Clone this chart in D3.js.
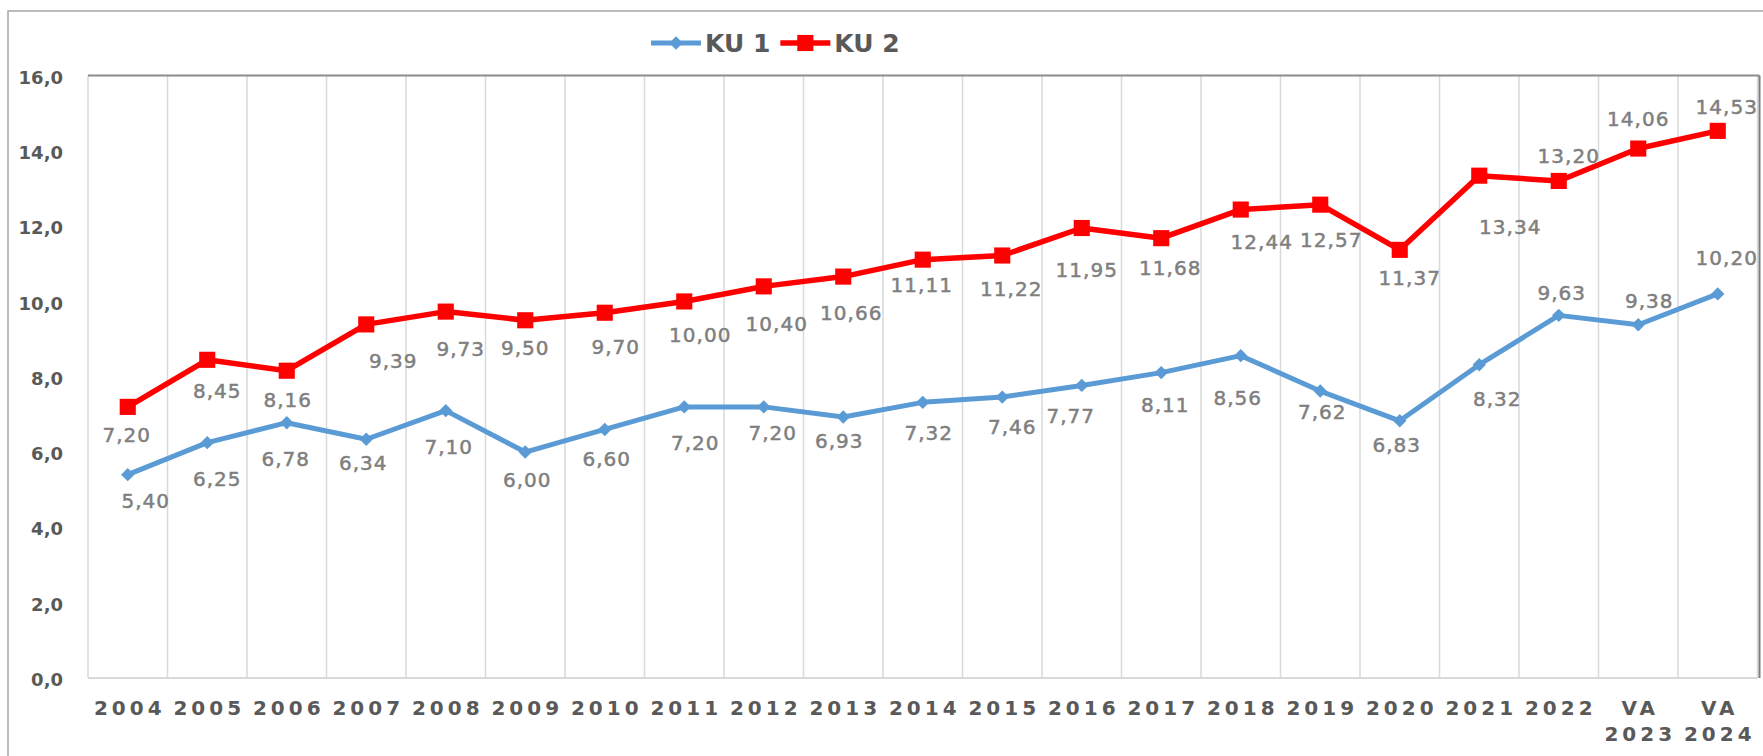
<!DOCTYPE html>
<html>
<head>
<meta charset="utf-8">
<script src="https://cdn.jsdelivr.net/npm/d3@7"></script>
<style>
    body { margin: 0; background: #fff; }
    svg { display: block; font-family: "DejaVu Sans", Verdana, sans-serif; }
</style>
</head>
<body>
<div id="canva"></div>
<script>
const categories = ['2004', '2005', '2006', '2007', '2008', '2009', '2010', '2011', '2012', '2013',
    '2014', '2015', '2016', '2017', '2018', '2019', '2020', '2021', '2022', 'VA\n2023', 'VA\n2024'];

const ku1 = [5.40, 6.25, 6.78, 6.34, 7.10, 6.00, 6.60, 7.20, 7.20, 6.93,
    7.32, 7.46, 7.77, 8.11, 8.56, 7.62, 6.83, 8.32, 9.63, 9.38, 10.20];

const ku2 = [7.20, 8.45, 8.16, 9.39, 9.73, 9.50, 9.70, 10.00, 10.40, 10.66,
    11.11, 11.22, 11.95, 11.68, 12.44, 12.57, 11.37, 13.34, 13.20, 14.06, 14.53];

const yTicks = [0, 2, 4, 6, 8, 10, 12, 14, 16];

// where each value label sits relative to its marker (dx, dy to text centre)
const ku1LabelShift = [[18, 26], [10, 36], [-1, 36], [-3, 24], [3, 36], [2, 28], [2, 30], [11, 36], [9, 26], [-4, 24],
    [6, 31], [10, 30], [-11, 31], [4, 32], [-3, 42], [2, 21], [-3, 24], [18, 34], [3, -22], [11, -24], [9, -36]];
const ku2LabelShift = [[-1, 28], [10, 31], [1, 29], [27, 37], [15, 37], [0, 28], [11, 34], [16, 34], [13, 38], [8, 36],
    [-1, 25], [9, 34], [5, 42], [9, 30], [21, 32], [11, 35], [10, 28], [31, 51], [10, -25], [0, -30], [9, -24]];

const width = 1763, height = 756;
const plot = { left: 88, right: 1757.5, top: 75.5, bottom: 678 };

const svg = d3.select('#canva').append('svg')
    .attr('width', width)
    .attr('height', height);

// outer chart frame (only top and left edges fall inside the picture)
svg.append('path')
    .attr('d', `M8,${height} L8,11 L${width},11`)
    .attr('fill', 'none')
    .attr('stroke', '#a6a6a6')
    .attr('stroke-width', 1.5);

const x = d3.scaleBand()
    .domain(categories)
    .range([plot.left, plot.right])
    .padding(0);

const y = d3.scaleLinear()
    .domain([0, 16])
    .range([plot.bottom, plot.top]);

const cx = c => x(c) + x.bandwidth() / 2;

// vertical gridlines on category boundaries
const bounds = categories.map(c => x(c)).concat([plot.right]);
svg.append('g').selectAll('line')
    .data(bounds)
    .enter()
    .append('line')
    .attr('x1', d => d).attr('x2', d => d)
    .attr('y1', plot.top).attr('y2', plot.bottom)
    .attr('stroke', '#d9d9d9')
    .attr('stroke-width', 1.5);

// baseline, top edge and right edge of plot
svg.append('line')
    .attr('x1', plot.left).attr('x2', plot.right)
    .attr('y1', y(0)).attr('y2', y(0))
    .attr('stroke', '#d9d9d9').attr('stroke-width', 2);
svg.append('line')
    .attr('x1', plot.left).attr('x2', plot.right + 2)
    .attr('y1', y(16)).attr('y2', y(16))
    .attr('stroke', '#8c8c8c').attr('stroke-width', 2);
svg.append('line')
    .attr('x1', plot.right + 2).attr('x2', plot.right + 2)
    .attr('y1', y(16)).attr('y2', y(0))
    .attr('stroke', '#7f7f7f').attr('stroke-width', 2);

// y axis
const yAxis = svg.append('g')
    .attr('transform', `translate(${plot.left},0)`)
    .call(d3.axisLeft(y).tickValues(yTicks).tickSize(0).tickPadding(25)
        .tickFormat(d => d.toFixed(1).replace('.', ',')));
yAxis.select('.domain').remove();
yAxis.selectAll('text')
    .attr('font-family', '"DejaVu Sans", Verdana, sans-serif')
    .attr('font-size', 18)
    .attr('font-weight', 'bold')
    .attr('fill', '#595959')
    .attr('dy', '0.42em');

// x axis labels, two lines for the VA entries
const xAxis = svg.append('g')
    .attr('transform', `translate(0,${plot.bottom})`)
    .call(d3.axisBottom(x).tickSize(0).tickFormat(''));
xAxis.select('.domain').remove();
xAxis.selectAll('.tick').each(function (d) {
    const t = d3.select(this).append('text')
        .attr('text-anchor', 'middle')
        .attr('font-family', '"DejaVu Sans", Verdana, sans-serif')
        .attr('font-size', 20)
        .attr('font-weight', 'bold')
        .attr('letter-spacing', '4px')
        .attr('fill', '#595959');
    d.split('\n').forEach((part, i) => {
        t.append('tspan')
            .attr('x', 2)
            .attr('y', 37 + i * 26)
            .text(part);
    });
});

const series = [
    { name: 'KU 1', values: ku1, color: '#5b9bd5', width: 5, shape: 'diamond', shift: ku1LabelShift },
    { name: 'KU 2', values: ku2, color: '#ff0000', width: 5.5, shape: 'square', shift: ku2LabelShift }
];

const line = d3.line()
    .x((d, i) => cx(categories[i]))
    .y(d => y(d));

const markerPath = shape => shape === 'diamond'
    ? d3.symbol(d3.symbolSquare, 90)()
    : d3.symbol(d3.symbolSquare, 260)();
const markerRotate = shape => shape === 'diamond' ? 45 : 0;

series.forEach(s => {
    svg.append('path')
        .datum(s.values)
        .attr('fill', 'none')
        .attr('stroke', s.color)
        .attr('stroke-width', s.width)
        .attr('stroke-linejoin', 'round')
        .attr('d', line);

    svg.append('g').selectAll('path')
        .data(s.values)
        .enter()
        .append('path')
        .attr('d', markerPath(s.shape))
        .attr('fill', s.color)
        .attr('transform', (d, i) => `translate(${cx(categories[i])},${y(d)}) rotate(${markerRotate(s.shape)})`);
});

// value labels
series.forEach(s => {
    svg.append('g').selectAll('text')
        .data(s.values)
        .enter()
        .append('text')
        .attr('text-anchor', 'middle')
        .attr('font-family', '"DejaVu Sans", Verdana, sans-serif')
        .attr('font-size', 20)
        .attr('letter-spacing', '1px')
        .attr('fill', '#7f7f7f')
        .attr('stroke', '#7f7f7f')
        .attr('stroke-width', 0.5)
        .attr('x', (d, i) => cx(categories[i]) + s.shift[i][0])
        .attr('y', (d, i) => y(d) + s.shift[i][1] + 7)
        .text(d => d.toFixed(2).replace('.', ','));
});

// legend
const legend = svg.append('g').attr('transform', 'translate(651,43)');
let lx = 0;
series.forEach(s => {
    const item = legend.append('g').attr('transform', `translate(${lx},0)`);
    item.append('line')
        .attr('x1', 0).attr('x2', 50)
        .attr('stroke', s.color)
        .attr('stroke-width', s.width);
    item.append('path')
        .attr('d', markerPath(s.shape))
        .attr('fill', s.color)
        .attr('transform', `translate(25,0) rotate(${markerRotate(s.shape)})`);
    const label = item.append('text')
        .attr('x', 54)
        .attr('y', 9)
        .attr('font-family', '"DejaVu Sans", Verdana, sans-serif')
        .attr('font-size', 25)
        .attr('font-weight', 'bold')
        .attr('fill', '#595959')
        .text(s.name);
    lx += 54 + label.node().getComputedTextLength() + 10;
});
</script>
</body>
</html>
